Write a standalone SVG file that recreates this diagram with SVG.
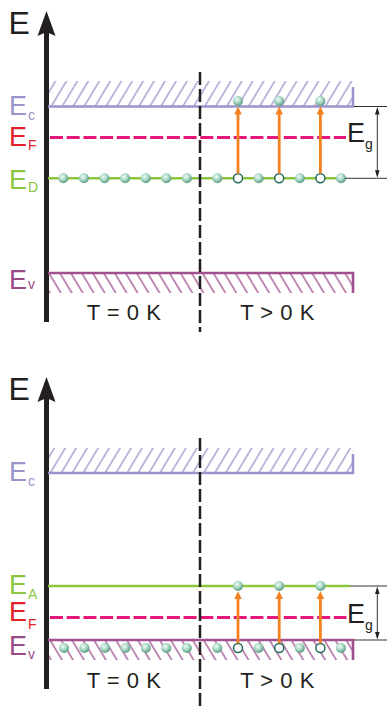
<svg xmlns="http://www.w3.org/2000/svg" width="387" height="707" viewBox="0 0 387 707">
<style>
text{font-family:"Liberation Sans",Arial,sans-serif}
.big{font-size:32px;fill:#231f20}
.lab{font-size:27px}
.sub{font-size:14px}
.tk{font-size:22px;fill:#231f20;letter-spacing:0.5px;text-anchor:middle}
.c{fill:#9d93cb}.f{fill:#e2222b}.d{fill:#8cc63e}.v{fill:#9b4a89}.k{fill:#231f20}
.axis{stroke:#231f20;stroke-width:5;fill:none}
.vdash{stroke:#231f20;stroke-width:2.5;stroke-dasharray:13 4;fill:none}
.ecl{stroke:#9d93cb;stroke-width:2.6;fill:none}
.evl{stroke:#a1508f;stroke-width:2.6;fill:none}
.efl{stroke:#e5177b;stroke-width:2.8;stroke-dasharray:13 3.7;fill:none}
.edl{stroke:#8cc63e;stroke-width:2.5;fill:none}
.thin{stroke:#333;stroke-width:1;fill:none}
.ball{fill:url(#bg)}
.hole{fill:#fff;stroke:#1f6b5a;stroke-width:1.5}
.orl{stroke:#f58220;stroke-width:2.8;fill:none}
.orh{fill:#f58220}
.egh{fill:#231f20}
</style>
<defs>
<radialGradient id="bg" cx="0.4" cy="0.35" r="0.65">
<stop offset="0" stop-color="#f2fbf7"/>
<stop offset="0.5" stop-color="#a9d9c6"/>
<stop offset="1" stop-color="#5a9a82"/>
</radialGradient>
<pattern id="hc" patternUnits="userSpaceOnUse" width="9.4" height="10" patternTransform="rotate(31)">
<line x1="4.7" y1="-1" x2="4.7" y2="11" stroke="#9d93cb" stroke-width="1.3"/>
</pattern>
<pattern id="hv" patternUnits="userSpaceOnUse" width="9.4" height="10" patternTransform="rotate(-31)">
<line x1="4.7" y1="-1" x2="4.7" y2="11" stroke="#a1508f" stroke-width="1.3"/>
</pattern>
</defs>

<!-- ===== TOP DIAGRAM (n-type) ===== -->
<g id="top-axis">
<line class="axis" x1="46.5" y1="30" x2="46.5" y2="322"/>
<polygon points="46.5,11 55.5,36 46.5,32 37.5,36" fill="#231f20"/>
<text class="big" x="8.5" y="33.5">E</text>
</g>
<g id="top-Ec">
<rect x="49" y="81" width="304" height="25" fill="url(#hc)"/>
<path class="ecl" d="M48,106.5 H353 V87"/>
<text class="lab c" x="9" y="115">E<tspan class="sub" dx="1" dy="5">c</tspan></text>
</g>
<g id="top-Ef">
<line class="efl" x1="50" y1="137.5" x2="346" y2="137.5"/>
<text class="lab f" x="9" y="146">E<tspan class="sub" font-size="12" dx="1" dy="4">F</tspan></text>
</g>
<g id="top-Ed">
<line class="edl" x1="48" y1="178.3" x2="345" y2="178.3"/>
<text class="lab d" x="9" y="189">E<tspan class="sub" dx="1" dy="3">D</tspan></text>
</g>
<g id="top-Ev">
<rect x="49" y="273" width="304" height="20" fill="url(#hv)"/>
<path class="evl" d="M48,273 H353 V293"/>
<text class="lab v" x="9" y="289">E<tspan class="sub" dx="1" dy="0">v</tspan></text>
</g>
<g id="top-divider">
<line class="vdash" x1="200" y1="72" x2="200" y2="332"/>
</g>
<g id="top-electrons">
<circle class="ball" cx="63.3" cy="178.3" r="5"/>
<circle class="ball" cx="83.9" cy="178.3" r="5"/>
<circle class="ball" cx="104.5" cy="178.3" r="5"/>
<circle class="ball" cx="125.1" cy="178.3" r="5"/>
<circle class="ball" cx="145.7" cy="178.3" r="5"/>
<circle class="ball" cx="166.3" cy="178.3" r="5"/>
<circle class="ball" cx="186.9" cy="178.3" r="5"/>
<circle class="ball" cx="217.3" cy="178.3" r="5"/>
<circle class="hole" cx="238" cy="178.3" r="4.5"/>
<circle class="ball" cx="258.6" cy="178.3" r="5"/>
<circle class="hole" cx="279.2" cy="178.3" r="4.5"/>
<circle class="ball" cx="299.8" cy="178.3" r="5"/>
<circle class="hole" cx="320.4" cy="178.3" r="4.5"/>
<circle class="ball" cx="341" cy="178.3" r="5"/>
<circle class="ball" cx="238" cy="101" r="5"/>
<circle class="ball" cx="279.2" cy="101" r="5"/>
<circle class="ball" cx="320.4" cy="101" r="5"/>
</g>
<g id="top-Eg">
<line class="thin" x1="354" y1="106.5" x2="387" y2="106.5"/>
<line class="thin" x1="345" y1="178.3" x2="387" y2="178.3"/>
<text class="lab k" x="347" y="142" font-size="28">E<tspan class="sub" dx="0" dy="6.5">g</tspan></text>
</g>
<text class="tk" x="124" y="320">T = 0 K</text>
<text class="tk" x="277.5" y="320">T &gt; 0 K</text>

<!-- ===== BOTTOM DIAGRAM (p-type) ===== -->
<g id="bot-axis">
<line class="axis" x1="46.5" y1="396" x2="46.5" y2="689"/>
<polygon points="46.5,377 55.5,402 46.5,398 37.5,402" fill="#231f20"/>
<text class="big" x="8.5" y="399.5">E</text>
</g>
<g id="bot-Ec">
<rect x="49" y="448" width="304" height="25" fill="url(#hc)"/>
<path class="ecl" d="M48,473 H353 V454"/>
<text class="lab c" x="9" y="481">E<tspan class="sub" dx="1" dy="5">c</tspan></text>
</g>
<g id="bot-Ea">
<line class="edl" x1="48" y1="586" x2="350" y2="586"/>
<text class="lab d" x="9" y="593.5">E<tspan class="sub" dx="1" dy="5">A</tspan></text>
</g>
<g id="bot-Ef">
<line class="efl" x1="50" y1="617.5" x2="346.5" y2="617.5"/>
<text class="lab f" x="9" y="621">E<tspan class="sub" font-size="12" dx="1" dy="8">F</tspan></text>
</g>
<g id="bot-Ev">
<rect x="49" y="640" width="304" height="20" fill="url(#hv)"/>
<path class="evl" d="M48,640 H353 V660"/>
<text class="lab v" x="9" y="655">E<tspan class="sub" dx="1" dy="4">v</tspan></text>
</g>
<g id="bot-divider">
<line class="vdash" x1="200" y1="438" x2="200" y2="707"/>
</g>
<g id="bot-electrons">
<circle class="ball" cx="64" cy="648" r="5"/>
<circle class="ball" cx="84.4" cy="648" r="5"/>
<circle class="ball" cx="105" cy="648" r="5"/>
<circle class="ball" cx="125.4" cy="648" r="5"/>
<circle class="ball" cx="145.8" cy="648" r="5"/>
<circle class="ball" cx="166.3" cy="648" r="5"/>
<circle class="ball" cx="186.8" cy="648" r="5"/>
<circle class="ball" cx="217.3" cy="648" r="5"/>
<circle class="hole" cx="238" cy="648" r="4.5"/>
<circle class="ball" cx="258.6" cy="648" r="5"/>
<circle class="hole" cx="279.2" cy="648" r="4.5"/>
<circle class="ball" cx="299.8" cy="648" r="5"/>
<circle class="hole" cx="320.4" cy="648" r="4.5"/>
<circle class="ball" cx="341" cy="648" r="5"/>
<circle class="ball" cx="238" cy="586" r="5"/>
<circle class="ball" cx="279.2" cy="586" r="5"/>
<circle class="ball" cx="320.4" cy="586" r="5"/>
</g>
<g id="bot-Eg">
<line class="thin" x1="350" y1="586" x2="387" y2="586"/>
<line class="thin" x1="354" y1="640" x2="387" y2="640"/>
<text class="lab k" x="347" y="623" font-size="28">E<tspan class="sub" dx="0" dy="7">g</tspan></text>
</g>
<text class="tk" x="124" y="688">T = 0 K</text>
<text class="tk" x="277.5" y="688">T &gt; 0 K</text>

<!-- ===== CONNECTORS ===== -->
<g id="connectors">
<line class="orl" x1="238" y1="173.5" x2="238" y2="113"/>
<polygon class="orh" points="238,106.5 241.8,114.5 234.2,114.5"/>
<line class="orl" x1="279.2" y1="173.5" x2="279.2" y2="113"/>
<polygon class="orh" points="279.2,106.5 283,114.5 275.4,114.5"/>
<line class="orl" x1="320.4" y1="173.5" x2="320.4" y2="113"/>
<polygon class="orh" points="320.4,106.5 324.2,114.5 316.6,114.5"/>
<line class="orl" x1="238" y1="643.2" x2="238" y2="597"/>
<polygon class="orh" points="238,591.3 241.8,599 234.2,599"/>
<line class="orl" x1="279.2" y1="643.2" x2="279.2" y2="597"/>
<polygon class="orh" points="279.2,591.3 283,599 275.4,599"/>
<line class="orl" x1="320.4" y1="643.2" x2="320.4" y2="597"/>
<polygon class="orh" points="320.4,591.3 324.2,599 316.6,599"/>
<line class="thin" x1="377.3" y1="112" x2="377.3" y2="173"/>
<polygon class="egh" points="377.3,107 379.6,114.5 375,114.5"/>
<polygon class="egh" points="377.3,177.8 379.6,170.3 375,170.3"/>
<line class="thin" x1="377.3" y1="591" x2="377.3" y2="635"/>
<polygon class="egh" points="377.3,586.5 379.6,594 375,594"/>
<polygon class="egh" points="377.3,639.5 379.6,632 375,632"/>
</g>
</svg>
